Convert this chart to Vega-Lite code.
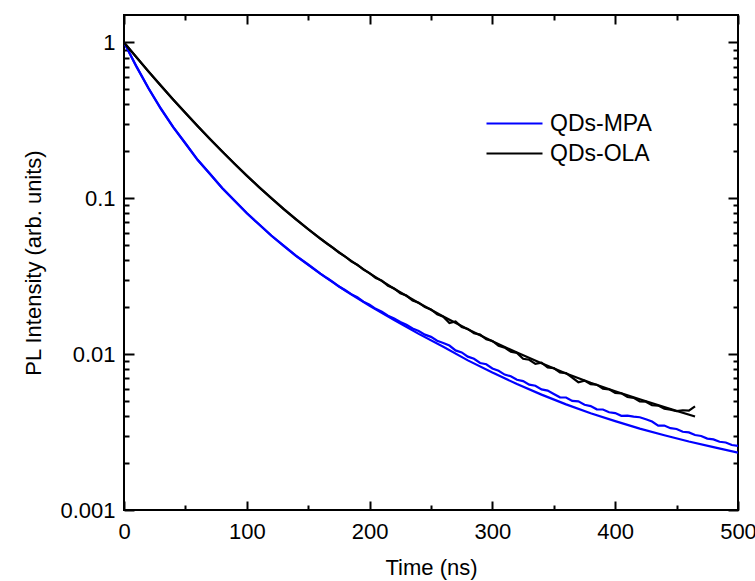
{
  "$schema": "https://vega.github.io/schema/vega-lite/v6.json",
  "width": 614,
  "height": 495,
  "autosize": {"type": "none"},
  "padding": {"left": 124, "top": 15, "right": 17, "bottom": 71},
  "background": "white",
  "config": {
    "view": {"stroke": "black", "strokeWidth": 2},
    "font": "Liberation Sans",
    "axis": {"labelFont": "Liberation Sans", "titleFont": "Liberation Sans", "labelColor": "black", "titleColor": "black", "tickColor": "black", "tickWidth": 2, "domain": false, "grid": false, "titleFontWeight": "normal", "labelOverlap": false, "labelFlush": false}
  },
  "datasets": {
    "d": [
      {"t": 0, "v": 1, "s": "QDs-MPA", "k": "fit"},
      {"t": 10, "v": 0.702, "s": "QDs-MPA", "k": "fit"},
      {"t": 20, "v": 0.506, "s": "QDs-MPA", "k": "fit"},
      {"t": 30, "v": 0.375, "s": "QDs-MPA", "k": "fit"},
      {"t": 40, "v": 0.286, "s": "QDs-MPA", "k": "fit"},
      {"t": 50, "v": 0.2246, "s": "QDs-MPA", "k": "fit"},
      {"t": 60, "v": 0.176, "s": "QDs-MPA", "k": "fit"},
      {"t": 70, "v": 0.143, "s": "QDs-MPA", "k": "fit"},
      {"t": 80, "v": 0.116, "s": "QDs-MPA", "k": "fit"},
      {"t": 90, "v": 0.0965, "s": "QDs-MPA", "k": "fit"},
      {"t": 100, "v": 0.0801, "s": "QDs-MPA", "k": "fit"},
      {"t": 110, "v": 0.0679, "s": "QDs-MPA", "k": "fit"},
      {"t": 120, "v": 0.0575, "s": "QDs-MPA", "k": "fit"},
      {"t": 130, "v": 0.0495, "s": "QDs-MPA", "k": "fit"},
      {"t": 140, "v": 0.0427, "s": "QDs-MPA", "k": "fit"},
      {"t": 150, "v": 0.0374, "s": "QDs-MPA", "k": "fit"},
      {"t": 160, "v": 0.0327, "s": "QDs-MPA", "k": "fit"},
      {"t": 180, "v": 0.0256, "s": "QDs-MPA", "k": "fit"},
      {"t": 200, "v": 0.0204, "s": "QDs-MPA", "k": "fit"},
      {"t": 220, "v": 0.01656, "s": "QDs-MPA", "k": "fit"},
      {"t": 240, "v": 0.01349, "s": "QDs-MPA", "k": "fit"},
      {"t": 260, "v": 0.01114, "s": "QDs-MPA", "k": "fit"},
      {"t": 280, "v": 0.00912, "s": "QDs-MPA", "k": "fit"},
      {"t": 300, "v": 0.00762, "s": "QDs-MPA", "k": "fit"},
      {"t": 320, "v": 0.00643, "s": "QDs-MPA", "k": "fit"},
      {"t": 340, "v": 0.0055, "s": "QDs-MPA", "k": "fit"},
      {"t": 360, "v": 0.00476, "s": "QDs-MPA", "k": "fit"},
      {"t": 380, "v": 0.00418, "s": "QDs-MPA", "k": "fit"},
      {"t": 400, "v": 0.00372, "s": "QDs-MPA", "k": "fit"},
      {"t": 420, "v": 0.00333, "s": "QDs-MPA", "k": "fit"},
      {"t": 440, "v": 0.00302, "s": "QDs-MPA", "k": "fit"},
      {"t": 460, "v": 0.00275, "s": "QDs-MPA", "k": "fit"},
      {"t": 480, "v": 0.00253, "s": "QDs-MPA", "k": "fit"},
      {"t": 500, "v": 0.00233, "s": "QDs-MPA", "k": "fit"},

      {"t": 0, "v": 1, "s": "QDs-MPA", "k": "data"},
      {"t": 10, "v": 0.705, "s": "QDs-MPA", "k": "data"},
      {"t": 20, "v": 0.508, "s": "QDs-MPA", "k": "data"},
      {"t": 30, "v": 0.377, "s": "QDs-MPA", "k": "data"},
      {"t": 40, "v": 0.287, "s": "QDs-MPA", "k": "data"},
      {"t": 50, "v": 0.2255, "s": "QDs-MPA", "k": "data"},
      {"t": 60, "v": 0.1765, "s": "QDs-MPA", "k": "data"},
      {"t": 70, "v": 0.1435, "s": "QDs-MPA", "k": "data"},
      {"t": 80, "v": 0.1165, "s": "QDs-MPA", "k": "data"},
      {"t": 90, "v": 0.0968, "s": "QDs-MPA", "k": "data"},
      {"t": 100, "v": 0.0804, "s": "QDs-MPA", "k": "data"},
      {"t": 110, "v": 0.0681, "s": "QDs-MPA", "k": "data"},
      {"t": 120, "v": 0.0577, "s": "QDs-MPA", "k": "data"},
      {"t": 130, "v": 0.0497, "s": "QDs-MPA", "k": "data"},
      {"t": 140, "v": 0.0429, "s": "QDs-MPA", "k": "data"},
      {"t": 150, "v": 0.0376, "s": "QDs-MPA", "k": "data"},
      {"t": 160, "v": 0.0329, "s": "QDs-MPA", "k": "data"},
      {"t": 165, "v": 0.0309, "s": "QDs-MPA", "k": "data"},
      {"t": 170, "v": 0.02911, "s": "QDs-MPA", "k": "data"},
      {"t": 175, "v": 0.02716, "s": "QDs-MPA", "k": "data"},
      {"t": 180, "v": 0.02582, "s": "QDs-MPA", "k": "data"},
      {"t": 185, "v": 0.02427, "s": "QDs-MPA", "k": "data"},
      {"t": 190, "v": 0.02317, "s": "QDs-MPA", "k": "data"},
      {"t": 195, "v": 0.02173, "s": "QDs-MPA", "k": "data"},
      {"t": 200, "v": 0.02075, "s": "QDs-MPA", "k": "data"},
      {"t": 205, "v": 0.01954, "s": "QDs-MPA", "k": "data"},
      {"t": 210, "v": 0.01875, "s": "QDs-MPA", "k": "data"},
      {"t": 215, "v": 0.01766, "s": "QDs-MPA", "k": "data"},
      {"t": 220, "v": 0.01694, "s": "QDs-MPA", "k": "data"},
      {"t": 225, "v": 0.01607, "s": "QDs-MPA", "k": "data"},
      {"t": 230, "v": 0.01545, "s": "QDs-MPA", "k": "data"},
      {"t": 235, "v": 0.01462, "s": "QDs-MPA", "k": "data"},
      {"t": 240, "v": 0.01409, "s": "QDs-MPA", "k": "data"},
      {"t": 245, "v": 0.01334, "s": "QDs-MPA", "k": "data"},
      {"t": 250, "v": 0.01291, "s": "QDs-MPA", "k": "data"},
      {"t": 255, "v": 0.01219, "s": "QDs-MPA", "k": "data"},
      {"t": 260, "v": 0.0118, "s": "QDs-MPA", "k": "data"},
      {"t": 265, "v": 0.01135, "s": "QDs-MPA", "k": "data"},
      {"t": 270, "v": 0.01057, "s": "QDs-MPA", "k": "data"},
      {"t": 275, "v": 0.01026, "s": "QDs-MPA", "k": "data"},
      {"t": 280, "v": 0.009638, "s": "QDs-MPA", "k": "data"},
      {"t": 285, "v": 0.009333, "s": "QDs-MPA", "k": "data"},
      {"t": 290, "v": 0.00877, "s": "QDs-MPA", "k": "data"},
      {"t": 295, "v": 0.00861, "s": "QDs-MPA", "k": "data"},
      {"t": 300, "v": 0.008091, "s": "QDs-MPA", "k": "data"},
      {"t": 305, "v": 0.007816, "s": "QDs-MPA", "k": "data"},
      {"t": 310, "v": 0.007396, "s": "QDs-MPA", "k": "data"},
      {"t": 315, "v": 0.007211, "s": "QDs-MPA", "k": "data"},
      {"t": 320, "v": 0.006855, "s": "QDs-MPA", "k": "data"},
      {"t": 325, "v": 0.006714, "s": "QDs-MPA", "k": "data"},
      {"t": 330, "v": 0.006368, "s": "QDs-MPA", "k": "data"},
      {"t": 335, "v": 0.006266, "s": "QDs-MPA", "k": "data"},
      {"t": 340, "v": 0.005943, "s": "QDs-MPA", "k": "data"},
      {"t": 345, "v": 0.005834, "s": "QDs-MPA", "k": "data"},
      {"t": 350, "v": 0.005546, "s": "QDs-MPA", "k": "data"},
      {"t": 355, "v": 0.005284, "s": "QDs-MPA", "k": "data"},
      {"t": 360, "v": 0.005272, "s": "QDs-MPA", "k": "data"},
      {"t": 365, "v": 0.005012, "s": "QDs-MPA", "k": "data"},
      {"t": 370, "v": 0.004977, "s": "QDs-MPA", "k": "data"},
      {"t": 375, "v": 0.004732, "s": "QDs-MPA", "k": "data"},
      {"t": 380, "v": 0.004645, "s": "QDs-MPA", "k": "data"},
      {"t": 385, "v": 0.004426, "s": "QDs-MPA", "k": "data"},
      {"t": 390, "v": 0.004416, "s": "QDs-MPA", "k": "data"},
      {"t": 395, "v": 0.004236, "s": "QDs-MPA", "k": "data"},
      {"t": 400, "v": 0.004188, "s": "QDs-MPA", "k": "data"},
      {"t": 405, "v": 0.004018, "s": "QDs-MPA", "k": "data"},
      {"t": 410, "v": 0.00403, "s": "QDs-MPA", "k": "data"},
      {"t": 415, "v": 0.003972, "s": "QDs-MPA", "k": "data"},
      {"t": 420, "v": 0.003936, "s": "QDs-MPA", "k": "data"},
      {"t": 425, "v": 0.003819, "s": "QDs-MPA", "k": "data"},
      {"t": 430, "v": 0.003698, "s": "QDs-MPA", "k": "data"},
      {"t": 435, "v": 0.003475, "s": "QDs-MPA", "k": "data"},
      {"t": 440, "v": 0.003483, "s": "QDs-MPA", "k": "data"},
      {"t": 445, "v": 0.00335, "s": "QDs-MPA", "k": "data"},
      {"t": 450, "v": 0.003311, "s": "QDs-MPA", "k": "data"},
      {"t": 455, "v": 0.003177, "s": "QDs-MPA", "k": "data"},
      {"t": 460, "v": 0.003148, "s": "QDs-MPA", "k": "data"},
      {"t": 465, "v": 0.003027, "s": "QDs-MPA", "k": "data"},
      {"t": 470, "v": 0.002985, "s": "QDs-MPA", "k": "data"},
      {"t": 475, "v": 0.002871, "s": "QDs-MPA", "k": "data"},
      {"t": 480, "v": 0.002838, "s": "QDs-MPA", "k": "data"},
      {"t": 485, "v": 0.002742, "s": "QDs-MPA", "k": "data"},
      {"t": 490, "v": 0.00271, "s": "QDs-MPA", "k": "data"},
      {"t": 495, "v": 0.002612, "s": "QDs-MPA", "k": "data"},
      {"t": 500, "v": 0.002582, "s": "QDs-MPA", "k": "data"},

      {"t": 0, "v": 1, "s": "QDs-OLA", "k": "fit"},
      {"t": 10, "v": 0.805, "s": "QDs-OLA", "k": "fit"},
      {"t": 20, "v": 0.65, "s": "QDs-OLA", "k": "fit"},
      {"t": 30, "v": 0.528, "s": "QDs-OLA", "k": "fit"},
      {"t": 40, "v": 0.4305, "s": "QDs-OLA", "k": "fit"},
      {"t": 50, "v": 0.353, "s": "QDs-OLA", "k": "fit"},
      {"t": 60, "v": 0.2904, "s": "QDs-OLA", "k": "fit"},
      {"t": 70, "v": 0.2402, "s": "QDs-OLA", "k": "fit"},
      {"t": 80, "v": 0.1995, "s": "QDs-OLA", "k": "fit"},
      {"t": 90, "v": 0.1665, "s": "QDs-OLA", "k": "fit"},
      {"t": 100, "v": 0.1396, "s": "QDs-OLA", "k": "fit"},
      {"t": 110, "v": 0.1178, "s": "QDs-OLA", "k": "fit"},
      {"t": 120, "v": 0.1, "s": "QDs-OLA", "k": "fit"},
      {"t": 130, "v": 0.0853, "s": "QDs-OLA", "k": "fit"},
      {"t": 140, "v": 0.0733, "s": "QDs-OLA", "k": "fit"},
      {"t": 150, "v": 0.0633, "s": "QDs-OLA", "k": "fit"},
      {"t": 160, "v": 0.055, "s": "QDs-OLA", "k": "fit"},
      {"t": 180, "v": 0.0422, "s": "QDs-OLA", "k": "fit"},
      {"t": 200, "v": 0.033, "s": "QDs-OLA", "k": "fit"},
      {"t": 220, "v": 0.0263, "s": "QDs-OLA", "k": "fit"},
      {"t": 240, "v": 0.0213, "s": "QDs-OLA", "k": "fit"},
      {"t": 260, "v": 0.01746, "s": "QDs-OLA", "k": "fit"},
      {"t": 280, "v": 0.01445, "s": "QDs-OLA", "k": "fit"},
      {"t": 300, "v": 0.01211, "s": "QDs-OLA", "k": "fit"},
      {"t": 320, "v": 0.01023, "s": "QDs-OLA", "k": "fit"},
      {"t": 340, "v": 0.00873, "s": "QDs-OLA", "k": "fit"},
      {"t": 360, "v": 0.00752, "s": "QDs-OLA", "k": "fit"},
      {"t": 380, "v": 0.00656, "s": "QDs-OLA", "k": "fit"},
      {"t": 400, "v": 0.00578, "s": "QDs-OLA", "k": "fit"},
      {"t": 420, "v": 0.00513, "s": "QDs-OLA", "k": "fit"},
      {"t": 440, "v": 0.00457, "s": "QDs-OLA", "k": "fit"},
      {"t": 465, "v": 0.00398, "s": "QDs-OLA", "k": "fit"},

      {"t": 0, "v": 1, "s": "QDs-OLA", "k": "data"},
      {"t": 10, "v": 0.806, "s": "QDs-OLA", "k": "data"},
      {"t": 20, "v": 0.651, "s": "QDs-OLA", "k": "data"},
      {"t": 30, "v": 0.529, "s": "QDs-OLA", "k": "data"},
      {"t": 40, "v": 0.431, "s": "QDs-OLA", "k": "data"},
      {"t": 50, "v": 0.354, "s": "QDs-OLA", "k": "data"},
      {"t": 60, "v": 0.2908, "s": "QDs-OLA", "k": "data"},
      {"t": 70, "v": 0.2404, "s": "QDs-OLA", "k": "data"},
      {"t": 80, "v": 0.1998, "s": "QDs-OLA", "k": "data"},
      {"t": 90, "v": 0.1667, "s": "QDs-OLA", "k": "data"},
      {"t": 100, "v": 0.1398, "s": "QDs-OLA", "k": "data"},
      {"t": 110, "v": 0.118, "s": "QDs-OLA", "k": "data"},
      {"t": 120, "v": 0.1002, "s": "QDs-OLA", "k": "data"},
      {"t": 130, "v": 0.0855, "s": "QDs-OLA", "k": "data"},
      {"t": 140, "v": 0.0735, "s": "QDs-OLA", "k": "data"},
      {"t": 150, "v": 0.0634, "s": "QDs-OLA", "k": "data"},
      {"t": 160, "v": 0.0551, "s": "QDs-OLA", "k": "data"},
      {"t": 165, "v": 0.0514, "s": "QDs-OLA", "k": "data"},
      {"t": 170, "v": 0.04831, "s": "QDs-OLA", "k": "data"},
      {"t": 175, "v": 0.04487, "s": "QDs-OLA", "k": "data"},
      {"t": 180, "v": 0.04246, "s": "QDs-OLA", "k": "data"},
      {"t": 185, "v": 0.03936, "s": "QDs-OLA", "k": "data"},
      {"t": 190, "v": 0.0375, "s": "QDs-OLA", "k": "data"},
      {"t": 195, "v": 0.03483, "s": "QDs-OLA", "k": "data"},
      {"t": 200, "v": 0.03311, "s": "QDs-OLA", "k": "data"},
      {"t": 205, "v": 0.03083, "s": "QDs-OLA", "k": "data"},
      {"t": 210, "v": 0.02965, "s": "QDs-OLA", "k": "data"},
      {"t": 215, "v": 0.02748, "s": "QDs-OLA", "k": "data"},
      {"t": 220, "v": 0.02642, "s": "QDs-OLA", "k": "data"},
      {"t": 225, "v": 0.0246, "s": "QDs-OLA", "k": "data"},
      {"t": 230, "v": 0.02377, "s": "QDs-OLA", "k": "data"},
      {"t": 235, "v": 0.02208, "s": "QDs-OLA", "k": "data"},
      {"t": 240, "v": 0.02138, "s": "QDs-OLA", "k": "data"},
      {"t": 245, "v": 0.02004, "s": "QDs-OLA", "k": "data"},
      {"t": 250, "v": 0.01936, "s": "QDs-OLA", "k": "data"},
      {"t": 255, "v": 0.01799, "s": "QDs-OLA", "k": "data"},
      {"t": 260, "v": 0.01738, "s": "QDs-OLA", "k": "data"},
      {"t": 265, "v": 0.01585, "s": "QDs-OLA", "k": "data"},
      {"t": 270, "v": 0.01622, "s": "QDs-OLA", "k": "data"},
      {"t": 275, "v": 0.01493, "s": "QDs-OLA", "k": "data"},
      {"t": 280, "v": 0.01452, "s": "QDs-OLA", "k": "data"},
      {"t": 285, "v": 0.01361, "s": "QDs-OLA", "k": "data"},
      {"t": 290, "v": 0.01334, "s": "QDs-OLA", "k": "data"},
      {"t": 295, "v": 0.01245, "s": "QDs-OLA", "k": "data"},
      {"t": 300, "v": 0.01216, "s": "QDs-OLA", "k": "data"},
      {"t": 305, "v": 0.01132, "s": "QDs-OLA", "k": "data"},
      {"t": 310, "v": 0.01102, "s": "QDs-OLA", "k": "data"},
      {"t": 315, "v": 0.01038, "s": "QDs-OLA", "k": "data"},
      {"t": 320, "v": 0.01019, "s": "QDs-OLA", "k": "data"},
      {"t": 325, "v": 0.009333, "s": "QDs-OLA", "k": "data"},
      {"t": 330, "v": 0.009204, "s": "QDs-OLA", "k": "data"},
      {"t": 335, "v": 0.00867, "s": "QDs-OLA", "k": "data"},
      {"t": 340, "v": 0.00881, "s": "QDs-OLA", "k": "data"},
      {"t": 345, "v": 0.008204, "s": "QDs-OLA", "k": "data"},
      {"t": 350, "v": 0.008128, "s": "QDs-OLA", "k": "data"},
      {"t": 355, "v": 0.007621, "s": "QDs-OLA", "k": "data"},
      {"t": 360, "v": 0.007551, "s": "QDs-OLA", "k": "data"},
      {"t": 365, "v": 0.007079, "s": "QDs-OLA", "k": "data"},
      {"t": 370, "v": 0.006607, "s": "QDs-OLA", "k": "data"},
      {"t": 375, "v": 0.006761, "s": "QDs-OLA", "k": "data"},
      {"t": 380, "v": 0.006427, "s": "QDs-OLA", "k": "data"},
      {"t": 385, "v": 0.006368, "s": "QDs-OLA", "k": "data"},
      {"t": 390, "v": 0.005998, "s": "QDs-OLA", "k": "data"},
      {"t": 395, "v": 0.005943, "s": "QDs-OLA", "k": "data"},
      {"t": 400, "v": 0.005649, "s": "QDs-OLA", "k": "data"},
      {"t": 405, "v": 0.005598, "s": "QDs-OLA", "k": "data"},
      {"t": 410, "v": 0.005309, "s": "QDs-OLA", "k": "data"},
      {"t": 415, "v": 0.005248, "s": "QDs-OLA", "k": "data"},
      {"t": 420, "v": 0.004966, "s": "QDs-OLA", "k": "data"},
      {"t": 425, "v": 0.004955, "s": "QDs-OLA", "k": "data"},
      {"t": 430, "v": 0.004699, "s": "QDs-OLA", "k": "data"},
      {"t": 435, "v": 0.004677, "s": "QDs-OLA", "k": "data"},
      {"t": 440, "v": 0.004467, "s": "QDs-OLA", "k": "data"},
      {"t": 445, "v": 0.004406, "s": "QDs-OLA", "k": "data"},
      {"t": 450, "v": 0.004305, "s": "QDs-OLA", "k": "data"},
      {"t": 455, "v": 0.004365, "s": "QDs-OLA", "k": "data"},
      {"t": 460, "v": 0.004345, "s": "QDs-OLA", "k": "data"},
      {"t": 465, "v": 0.004624, "s": "QDs-OLA", "k": "data"}
    ]
  },
  "data": {"name": "d"},
  "layer": [
    {
      "mark": {"type": "line", "strokeWidth": 2.2, "clip": true},
      "encoding": {
        "x": {
          "field": "t", "type": "quantitative",
          "scale": {"domain": [0, 500], "nice": false, "zero": false},
          "axis": {
            "orient": "bottom", "title": "Time (ns)", "ticks": false,
            "values": [0, 100, 200, 300, 400, 500],
            "labelPadding": 11, "labelFontSize": 22, "titleFontSize": 22, "titlePadding": 15
          }
        },
        "y": {
          "field": "v", "type": "quantitative",
          "scale": {"type": "log", "domain": [0.001, 1.5], "nice": false},
          "axis": {
            "orient": "left", "title": "PL Intensity (arb. units)", "ticks": false,
            "values": [0.001, 0.01, 0.1, 1],
            "labelExpr": "datum.value == 1 ? '1' : datum.value == 0.1 ? '0.1' : datum.value == 0.01 ? '0.01' : '0.001'",
            "labelPadding": 9, "labelFontSize": 22, "titleFontSize": 22, "titlePadding": 14
          }
        },
        "color": {
          "field": "s", "type": "nominal",
          "scale": {"domain": ["QDs-MPA", "QDs-OLA"], "range": ["#0000ff", "#000000"]},
          "legend": {
            "title": null, "orient": "none", "legendX": 375, "legendY": 93,
            "symbolType": "M-2,0H2", "symbolSize": 784, "symbolStrokeWidth": 2.2,
            "labelFontSize": 23, "labelFont": "Liberation Sans", "labelColor": "black",
            "labelOffset": 20, "rowPadding": 2, "padding": 0
          }
        },
        "detail": {"field": "k", "type": "nominal"}
      }
    },
    {
      "mark": {"type": "line", "opacity": 0},
      "encoding": {
        "x": {
          "field": "t", "type": "quantitative",
          "scale": {"domain": [0, 500], "nice": false, "zero": false},
          "axis": {"orient": "bottom", "title": null, "labels": false, "ticks": true, "values": [0, 100, 200, 300, 400, 500], "tickSize": 9, "offset": -9}
        },
        "y": {
          "field": "v", "type": "quantitative",
          "scale": {"type": "log", "domain": [0.001, 1.5], "nice": false},
          "axis": {"orient": "left", "title": null, "labels": false, "ticks": true, "tickSize": 10, "offset": -10, "values": [0.001, 0.01, 0.1, 1]}
        },
        "detail": {"field": "k", "type": "nominal"}
      }
    },
    {
      "mark": {"type": "line", "opacity": 0},
      "encoding": {
        "x": {
          "field": "t", "type": "quantitative",
          "scale": {"domain": [0, 500], "nice": false, "zero": false},
          "axis": {"orient": "bottom", "title": null, "labels": false, "ticks": true, "values": [50, 150, 250, 350, 450], "tickSize": 5, "offset": -5}
        },
        "y": {
          "field": "v", "type": "quantitative",
          "scale": {"type": "log", "domain": [0.001, 1.5], "nice": false},
          "axis": {"orient": "left", "title": null, "labels": false, "ticks": true, "tickSize": 5, "offset": -5,
            "values": [0.002, 0.003, 0.004, 0.005, 0.006, 0.007, 0.008, 0.009, 0.02, 0.03, 0.04, 0.05, 0.06, 0.07, 0.08, 0.09, 0.2, 0.3, 0.4, 0.5, 0.6, 0.7, 0.8, 0.9]}
        },
        "detail": {"field": "k", "type": "nominal"}
      }
    },
    {
      "mark": {"type": "line", "opacity": 0},
      "encoding": {
        "x": {
          "field": "t", "type": "quantitative",
          "scale": {"domain": [0, 500], "nice": false, "zero": false},
          "axis": {"orient": "top", "title": null, "labels": false, "ticks": true, "values": [0, 100, 200, 300, 400, 500], "tickSize": 9, "offset": -9}
        },
        "y": {
          "field": "v", "type": "quantitative",
          "scale": {"type": "log", "domain": [0.001, 1.5], "nice": false},
          "axis": {"orient": "right", "title": null, "labels": false, "ticks": true, "tickSize": 10, "offset": -10, "values": [0.001, 0.01, 0.1, 1]}
        },
        "detail": {"field": "k", "type": "nominal"}
      }
    },
    {
      "mark": {"type": "line", "opacity": 0},
      "encoding": {
        "x": {
          "field": "t", "type": "quantitative",
          "scale": {"domain": [0, 500], "nice": false, "zero": false},
          "axis": {"orient": "top", "title": null, "labels": false, "ticks": true, "values": [50, 150, 250, 350, 450], "tickSize": 5, "offset": -5}
        },
        "y": {
          "field": "v", "type": "quantitative",
          "scale": {"type": "log", "domain": [0.001, 1.5], "nice": false},
          "axis": {"orient": "right", "title": null, "labels": false, "ticks": true, "tickSize": 5, "offset": -5,
            "values": [0.002, 0.003, 0.004, 0.005, 0.006, 0.007, 0.008, 0.009, 0.02, 0.03, 0.04, 0.05, 0.06, 0.07, 0.08, 0.09, 0.2, 0.3, 0.4, 0.5, 0.6, 0.7, 0.8, 0.9]}
        },
        "detail": {"field": "k", "type": "nominal"}
      }
    }
  ],
  "resolve": {"axis": {"x": "independent", "y": "independent"}}
}
